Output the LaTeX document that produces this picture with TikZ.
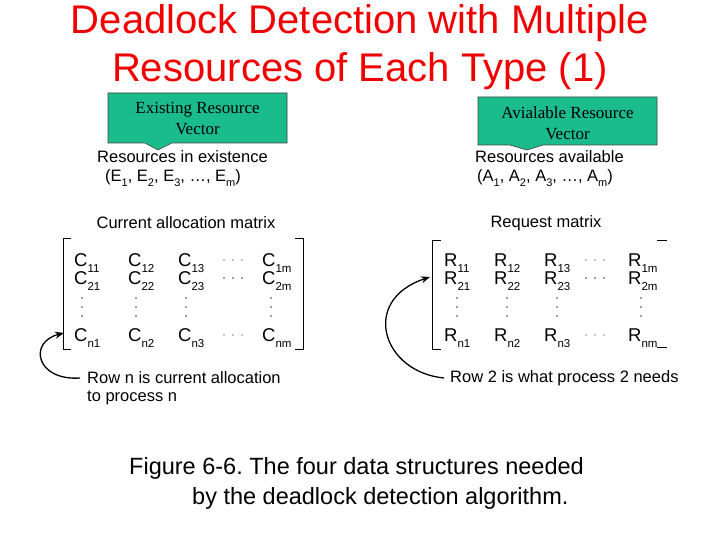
\documentclass[tikz,border=0pt]{standalone}
\usepackage{fontspec}
\setmainfont{Liberation Sans}
\newfontfamily\serifft{Liberation Serif}
\usetikzlibrary{arrows.meta}
\definecolor{callgreen}{RGB}{26,188,140}
\definecolor{titlered}{RGB}{240,0,0}
\newcommand{\ent}[2]{#1\smash{\raisebox{-0.32em}{\fontsize{11.5}{11.5}\selectfont #2}}}
\newcommand{\vsub}[2]{#1\raisebox{-0.32em}{\fontsize{11}{11}\selectfont #2}}
\frenchspacing
\begin{document}
\begin{tikzpicture}[x=1pt,y=-1pt,
  title/.style={font=\fontsize{40}{48}\selectfont, text=titlered, align=center, inner sep=0pt},
  callout/.style={fill=callgreen, draw=black!75, line width=0.6pt},
  calltext/.style={font=\serifft\fontsize{17}{21}\selectfont, align=center, inner sep=0pt},
  lbl/.style={font=\fontsize{16.5}{20}\selectfont, inner sep=0pt, anchor=west},
  ent/.style={font=\fontsize{18.5}{20}\selectfont, inner sep=0pt, anchor=west},
  dotc/.style={fill=black!75, draw=none},
  dotl/.style={fill=black!45, draw=none},
  brack/.style={line width=0.8pt},
  curvearrow/.style={line width=1.3pt, -{Stealth[length=9pt,width=7pt]}},
  caption/.style={font=\fontsize{23.5}{30}\selectfont, inner sep=0pt, anchor=west}
]
\useasboundingbox (0,0) rectangle (720,540);

% title
\node[title] (t1) at (360,23) {Deadlock Detection with Multiple};
\node[title] (t2) at (360,71) {Resources of Each Type (1)};

% callouts
\draw[callout] (108,93) -- (287,93) -- (287,143) -- (172,143) -- (158,150) -- (145,143) -- (108,143) -- cycle;
\node[calltext] (ext) at (197.5,119) {Existing Resource\\Vector};
\draw[callout] (478,97) -- (657,97) -- (657,145) -- (543,145) -- (527,150) -- (510,145) -- (478,145) -- cycle;
\node[calltext] (avl) at (567.5,123) {Avialable Resource\\Vector};

% vectors
\node[lbl] (rie) at (97,157) {Resources in existence};
\node[lbl] (evec) at (105,178) {(\vsub{E}{1}, \vsub{E}{2}, \vsub{E}{3}, \dots, \vsub{E}{m})};
\node[lbl] (ra) at (475,157) {Resources available};
\node[lbl] (avec) at (477,178) {(\vsub{A}{1}, \vsub{A}{2}, \vsub{A}{3}, \dots, \vsub{A}{m})};

% current allocation matrix
\node[lbl, anchor=center] (cam) at (186,223) {Current allocation matrix};
\draw[brack] (71,238) -- (63,238) -- (63,349) -- (71,349);
\draw[brack] (295,238) -- (303,238) -- (303,349) -- (295,349);
\node[ent] (c11) at (74,260) {\ent{C}{11}};
\node[ent] (c12) at (128,260) {\ent{C}{12}};
\node[ent] (c13) at (178,260) {\ent{C}{13}};
\node[ent] (c1m) at (262,260) {\ent{C}{1m}};
\node[ent] (c21) at (74,278) {\ent{C}{21}};
\node[ent] (c22) at (128,278) {\ent{C}{22}};
\node[ent] (c23) at (178,278) {\ent{C}{23}};
\node[ent] (c2m) at (262,278) {\ent{C}{2m}};
\node[ent] (cn1) at (74,335) {\ent{C}{n1}};
\node[ent] (cn2) at (128,335) {\ent{C}{n2}};
\node[ent] (cn3) at (178,335) {\ent{C}{n3}};
\node[ent] (cnm) at (262,335) {\ent{C}{nm}};
\foreach \x in {224,233,242} {
  \fill[dotl] (\x,260) circle (0.9);
  \fill[dotc] (\x,278) circle (0.9);
  \fill[dotl] (\x,335) circle (0.9);
}
\foreach \x in {82,136,186,271} {
  \foreach \y in {298,307,316} { \fill[dotc] (\x,\y) circle (0.9); }
}

\node[lbl] (rown) at (87,378) {Row n is current allocation};
\node[lbl] (rown2) at (87,398) {to process n};
\coordinate (lt) at (64,333);
\draw[curvearrow] ([xshift=-7pt]rown.west) .. controls (36,381) and (28,342) .. (lt);

% request matrix
\node[lbl, anchor=center] (rqm) at (546,223) {Request matrix};
\draw[brack] (441,240) -- (432,240) -- (432,349) -- (441,349);
\draw[brack] (657,240) -- (667,240);
\draw[brack] (657,347) -- (667,347);
\node[ent] (r11) at (444,260) {\ent{R}{11}};
\node[ent] (r12) at (494,260) {\ent{R}{12}};
\node[ent] (r13) at (544,260) {\ent{R}{13}};
\node[ent] (r1m) at (628,260) {\ent{R}{1m}};
\node[ent] (r21) at (444,278) {\ent{R}{21}};
\node[ent] (r22) at (494,278) {\ent{R}{22}};
\node[ent] (r23) at (544,278) {\ent{R}{23}};
\node[ent] (r2m) at (628,278) {\ent{R}{2m}};
\node[ent] (rn1) at (444,335) {\ent{R}{n1}};
\node[ent] (rn2) at (494,335) {\ent{R}{n2}};
\node[ent] (rn3) at (544,335) {\ent{R}{n3}};
\node[ent] (rnm) at (628,335) {\ent{R}{nm}};
\foreach \x in {586,595,604} {
  \fill[dotl] (\x,260) circle (0.9);
  \fill[dotc] (\x,278) circle (0.9);
  \fill[dotl] (\x,335) circle (0.9);
}
\foreach \x in {457,507,557,641} {
  \foreach \y in {298,307,316} { \fill[dotc] (\x,\y) circle (0.9); }
}

\node[lbl] (row2) at (450,378) {Row 2 is what process 2 needs};
\coordinate (rt) at (430,277);
\draw[curvearrow] ([xshift=-6pt]row2.west) .. controls (382,372) and (360,300) .. (rt);

% caption
\node[caption] (cap1) at (129,468) {Figure 6-6. The four data structures needed};
\node[caption] (cap2) at (192,498) {by the deadlock detection algorithm.};
\end{tikzpicture}
\end{document}
